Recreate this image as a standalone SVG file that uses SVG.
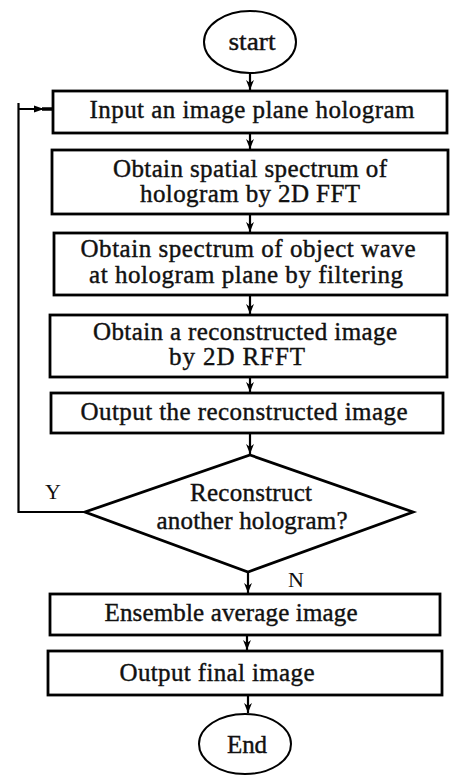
<svg xmlns="http://www.w3.org/2000/svg" width="451" height="776" viewBox="0 0 451 776">
<defs>
<style>
.box{fill:#fff;stroke:#000;stroke-width:2.8}
.term{fill:#fff;stroke:#000;stroke-width:2}
.t{font-family:"Liberation Serif","Times New Roman",serif;font-size:25px;font-weight:normal;fill:#111;text-anchor:middle;stroke:#111;stroke-width:0.4}
.lbl{font-family:"Liberation Serif","Times New Roman",serif;font-size:22px;fill:#111}
.c{fill:none;stroke:#000;stroke-width:2.2}
</style>
<marker id="ah" viewBox="0 0 10 10" refX="10" refY="5" markerWidth="4.5" markerHeight="4.5" orient="auto" markerUnits="strokeWidth">
<path d="M0,1 L10,5 L0,9 L3,5 Z" fill="#000"/>
</marker>
</defs>
<rect width="451" height="776" fill="#fff"/>
<g id="connectors">
<line class="c" x1="250" y1="73" x2="250" y2="90" marker-end="url(#ah)"/>
<line class="c" x1="250" y1="133" x2="250" y2="149" marker-end="url(#ah)"/>
<line class="c" x1="250" y1="214" x2="250" y2="232" marker-end="url(#ah)"/>
<line class="c" x1="250" y1="295" x2="250" y2="314" marker-end="url(#ah)"/>
<line class="c" x1="250" y1="377" x2="250" y2="392" marker-end="url(#ah)"/>
<line class="c" x1="250" y1="433" x2="250" y2="454" marker-end="url(#ah)"/>
<line class="c" x1="248" y1="572" x2="248" y2="593" marker-end="url(#ah)"/>
<line class="c" x1="247" y1="635" x2="247" y2="650" marker-end="url(#ah)"/>
<line class="c" x1="248" y1="695" x2="248" y2="713" marker-end="url(#ah)"/>
<polyline class="c" points="85,512 18.5,512 18.5,103"/>
<line class="c" x1="18.5" y1="109" x2="52" y2="109"/>
<path d="M34,105.5 L44,109 L34,112.5 Z" fill="#000"/>
<line x1="42" y1="109" x2="52" y2="109" stroke="#000" stroke-width="3.5"/>
<text class="lbl" x="45" y="499">Y</text>
<text class="lbl" x="288" y="587">N</text>
</g>
<g id="start">
<ellipse class="term" cx="250" cy="42" rx="46" ry="31"/>
<text class="t" x="252" y="50" textLength="47" lengthAdjust="spacingAndGlyphs">start</text>
</g>
<g id="input">
<rect class="box" x="53" y="91" width="394" height="42"/>
<text class="t" x="252" y="118" textLength="325">Input an image plane hologram</text>
</g>
<g id="fft">
<rect class="box" x="52" y="150" width="396" height="64"/>
<text class="t" x="250" y="177" textLength="274">Obtain spatial spectrum of</text>
<text class="t" x="250" y="202" textLength="220">hologram by 2D FFT</text>
</g>
<g id="filter">
<rect class="box" x="54" y="233" width="393" height="62"/>
<text class="t" x="248" y="257" textLength="335">Obtain spectrum of object wave</text>
<text class="t" x="246" y="283" textLength="314">at hologram plane by filtering</text>
</g>
<g id="rfft">
<rect class="box" x="50" y="315" width="397" height="62"/>
<text class="t" x="245" y="340" textLength="304">Obtain a reconstructed image</text>
<text class="t" x="237" y="365" textLength="136">by 2D RFFT</text>
</g>
<g id="output">
<rect class="box" x="51" y="393" width="392" height="40"/>
<text class="t" x="244" y="420" textLength="327">Output the reconstructed image</text>
</g>
<g id="decision">
<polygon class="box" points="250,455 413,512 248,572 85,512"/>
<text class="t" x="251" y="501" textLength="122">Reconstruct</text>
<text class="t" x="252" y="529" textLength="191">another hologram?</text>
</g>
<g id="ensemble">
<rect class="box" x="50" y="594" width="390" height="41"/>
<text class="t" x="231" y="621" textLength="253">Ensemble average image</text>
</g>
<g id="final">
<rect class="box" x="48" y="651" width="394" height="44"/>
<text class="t" x="217" y="681" textLength="195">Output final image</text>
</g>
<g id="end">
<ellipse class="term" cx="245" cy="744" rx="46" ry="30"/>
<text class="t" x="247" y="753" textLength="40">End</text>
</g>
</svg>
